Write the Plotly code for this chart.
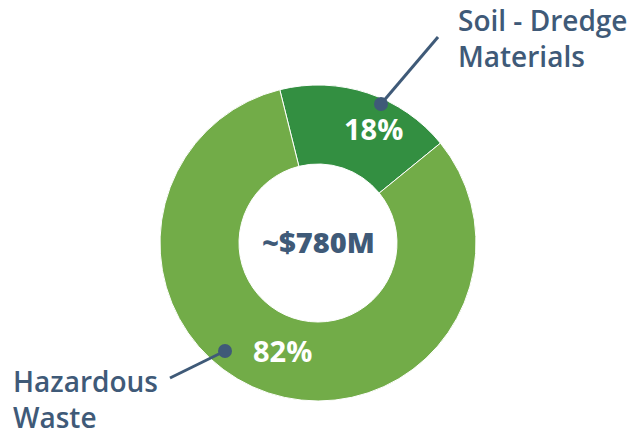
import plotly.graph_objects as go

# Spending split by waste category
categories = ["Soil - Dredge Materials", "Hazardous Waste"]
shares = [18, 82]
total_label = "~$780M"

W, H = 641, 435
NAVY = "#3f5a78"
colors = ["#338f41", "#72ac48"]


def px(x):
    return x / W


def py(y):
    return 1 - y / H


cx, cy, r = 318, 243, 158

fig = go.Figure(
    go.Pie(
        labels=categories,
        values=shares,
        hole=0.5,
        sort=False,
        direction="clockwise",
        rotation=-14,
        marker=dict(colors=colors, line=dict(color="white", width=1)),
        textinfo="none",
        hoverinfo="label+percent",
        domain=dict(x=[px(cx - r), px(cx + r)], y=[py(cy + r), py(cy - r)]),
        showlegend=False,
    )
)

font_main = "Open Sans, Noto Sans, sans-serif"

annotations = [
    # centre total
    dict(x=px(cx), y=py(241), text=total_label, showarrow=False,
         xanchor="center", yanchor="middle",
         font=dict(family=font_main, size=29, color=NAVY, weight=800)),
    # percentage labels inside the ring
    dict(x=px(373), y=py(128), text=f"{shares[0]}%", showarrow=False,
         xanchor="center", yanchor="middle",
         font=dict(family=font_main, size=29, color="white", weight="bold")),
    dict(x=px(282), y=py(350), text=f"{shares[1]}%", showarrow=False,
         xanchor="center", yanchor="middle",
         font=dict(family=font_main, size=29, color="white", weight="bold")),
    # category names
    dict(x=px(456), y=py(-1), text="Soil - Dredge<br>Materials", showarrow=False,
         xanchor="left", yanchor="top", align="left",
         font=dict(family=font_main, size=28, color=NAVY, weight=600)),
    dict(x=px(11), y=py(360), text="Hazardous<br>Waste", showarrow=False,
         xanchor="left", yanchor="top", align="left",
         font=dict(family=font_main, size=28, color=NAVY, weight=600)),
]

shapes = []
# leader lines from the slices to their names
for (x0, y0, x1, y1) in [(381, 104, 438, 37), (225, 351, 170, 378)]:
    shapes.append(dict(type="line", xref="paper", yref="paper",
                       x0=px(x0), y0=py(y0), x1=px(x1), y1=py(y1),
                       line=dict(color=NAVY, width=3)))
# end dots of the leaders
dr = 7
for (x, y) in [(381, 104), (225, 351)]:
    shapes.append(dict(type="circle", xref="paper", yref="paper",
                       x0=px(x - dr), y0=py(y + dr), x1=px(x + dr), y1=py(y - dr),
                       fillcolor=NAVY, line=dict(width=0)))

fig.update_layout(
    width=W, height=H,
    margin=dict(l=0, r=0, t=0, b=0),
    paper_bgcolor="white",
    plot_bgcolor="white",
    annotations=annotations,
    shapes=shapes,
)

fig.write_html("out.html")
